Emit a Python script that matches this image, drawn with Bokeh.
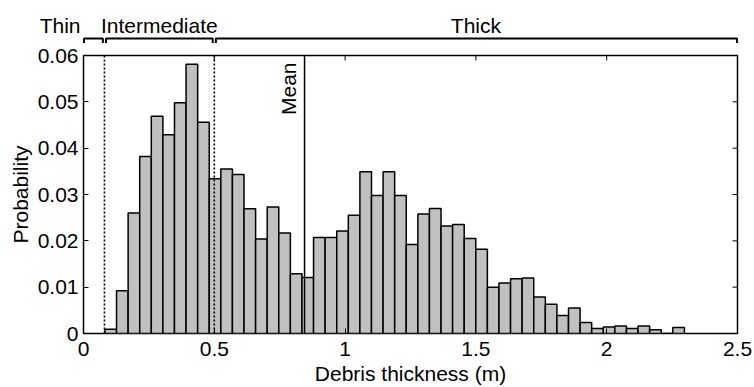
import math
from bokeh.plotting import figure
from bokeh.models import Range1d, FixedTicker, Label, Span
from bokeh.layouts import column
from bokeh.embed import file_html
from bokeh.resources import INLINE

# ---------------- data ----------------
probability = [0.0009, 0.0092, 0.0260, 0.0382, 0.0469, 0.0429, 0.0498, 0.0581, 0.0456, 0.0334,
               0.0355, 0.0343, 0.0269, 0.0204, 0.0273, 0.0217, 0.0129, 0.0121, 0.0207, 0.0207,
               0.0221, 0.0255, 0.0349, 0.0298, 0.0349, 0.0298, 0.0192, 0.0258, 0.0270, 0.0232,
               0.0235, 0.0205, 0.0182, 0.0100, 0.0109, 0.0118, 0.0120, 0.0079, 0.0063, 0.0039,
               0.0055, 0.0024, 0.0011, 0.0014, 0.0016, 0.0011, 0.0016, 0.0008, 0.0000, 0.0013]
bin_start = 0.082
bin_width = 0.0443
class_names = ["Thin", "Intermediate", "Thick"]
class_bounds = [0.0, 0.08, 0.5, 2.5]
mean_thickness = 0.845
x_ticks = [0, 0.5, 1, 1.5, 2, 2.5]
x_tick_labels = ["0", "0.5", "1", "1.5", "2", "2.5"]
y_ticks = [0, 0.01, 0.02, 0.03, 0.04, 0.05, 0.06]
y_tick_labels = ["0", "0.01", "0.02", "0.03", "0.04", "0.05", "0.06"]
x_label = "Debris thickness (m)"
y_label = "Probability"

# ---------------- layout constants ----------------
FONT = "Liberation Sans"
FS = "21px"
W, H_TOP, H_MAIN = 754, 43, 344
BL, BR, BT, BB = 83, 17, 12, 53
X0, X1 = x_ticks[0], x_ticks[-1]
Y0, Y1 = y_ticks[0], y_ticks[-1]
frame_w = W - BL - BR
dpx = (X1 - X0) / frame_w
frame_h = H_MAIN - BT - BB
dpy = (Y1 - Y0) / frame_h

# ---------------- top strip with class brackets (full-width frame) ----------------
top = figure(width=W, height=H_TOP, x_range=Range1d(X0 - BL * dpx, X1 + BR * dpx),
             y_range=Range1d(0, H_TOP), min_border=0, min_border_left=0, min_border_right=0,
             min_border_top=0, min_border_bottom=0,
             toolbar_location=None, output_backend="svg", x_axis_type=None, y_axis_type=None)
top.frame_align = False
top.outline_line_color = None
top.background_fill_color = "white"
top.border_fill_color = "white"
top.grid.visible = False

xs, ys = [], []
for i in range(len(class_names)):
    a, b = class_bounds[i], class_bounds[i + 1]
    a2 = a + (0.002 if i == 0 else 0.006)
    b2 = b - (0.002 if i == len(class_names) - 1 else 0.006)
    xs.append([a2, a2, b2, b2])
    ys.append([0.5, 5, 5, 0.5])
top.multi_line(xs, ys, line_color="black", line_width=2)

for i, name in enumerate(class_names):
    a, b = class_bounds[i], class_bounds[i + 1]
    if i == 0:
        lab = Label(x=a, y=18, text=name, x_offset=-3, text_align="right",
                    text_baseline="middle", text_font=FONT, text_font_size=FS,
                    text_color="black")
    else:
        lab = Label(x=(a + b) / 2, y=18, text=name, text_align="center",
                    text_baseline="middle", text_font=FONT, text_font_size=FS,
                    text_color="black")
    top.add_layout(lab)

# ---------------- main histogram ----------------
p = figure(width=W, height=H_MAIN, x_range=Range1d(X0, X1), y_range=Range1d(Y0, Y1),
           min_border_left=BL, min_border_right=BR, min_border_top=BT, min_border_bottom=BB,
           toolbar_location=None, output_backend="svg")
p.frame_align = False
p.outline_line_color = "black"
p.outline_line_width = 1.5
p.grid.visible = False
p.background_fill_color = "white"
p.border_fill_color = "white"

lefts = [bin_start + i * bin_width for i in range(len(probability))]
rights = [l + bin_width for l in lefts]
p.quad(left=lefts, right=rights, bottom=0, top=probability,
       fill_color="#c0c0c0", line_color="black", line_width=1.5)

for xb in class_bounds[1:-1]:
    p.add_layout(Span(location=xb, dimension="height", line_color="black",
                      line_width=1.6, line_dash="2 2"))
p.add_layout(Span(location=mean_thickness, dimension="height", line_color="black",
                  line_width=1.5))
p.add_layout(Label(x=mean_thickness, y=Y1 - 7 * dpy, text="Mean", angle=math.pi / 2,
                   x_offset=-5, text_align="right", text_baseline="bottom",
                   text_font=FONT, text_font_size=FS, text_color="black"))

# top ticks (inward)
inner_x = x_ticks[1:-1]
p.segment(x0=inner_x, y0=[Y1] * len(inner_x), x1=inner_x, y1=[Y1 - 5 * dpy] * len(inner_x),
          line_color="black", line_width=1)
# right ticks (inward)
inner_y = y_ticks[1:-1]
p.segment(x0=[X1] * len(inner_y), y0=inner_y, x1=[X1 - 5 * dpx] * len(inner_y), y1=inner_y,
          line_color="black", line_width=1)

def style_axis(ax):
    ax.axis_line_color = None
    ax.major_tick_in = 5
    ax.major_tick_out = 0
    ax.minor_tick_line_color = None
    ax.major_tick_line_color = "black"
    ax.major_label_text_font = FONT
    ax.major_label_text_font_size = FS
    ax.major_label_text_color = "black"
    ax.axis_label_text_font = FONT
    ax.axis_label_text_font_size = FS
    ax.axis_label_text_font_style = "normal"
    ax.axis_label_text_color = "black"

xa = p.xaxis[0]
style_axis(xa)
xa.ticker = FixedTicker(ticks=x_ticks)
xa.major_label_overrides = dict(zip(x_ticks, x_tick_labels))
xa.axis_label = x_label
xa.major_label_standoff = 8
xa.axis_label_standoff = 3

ya = p.yaxis[0]
style_axis(ya)
ya.ticker = FixedTicker(ticks=y_ticks)
ya.major_label_overrides = dict(zip(y_ticks, y_tick_labels))
ya.axis_label = y_label
ya.major_label_standoff = 5
ya.axis_label_standoff = 3

layout = column(top, p)
open("out.html", "w").write(file_html(layout, INLINE))
